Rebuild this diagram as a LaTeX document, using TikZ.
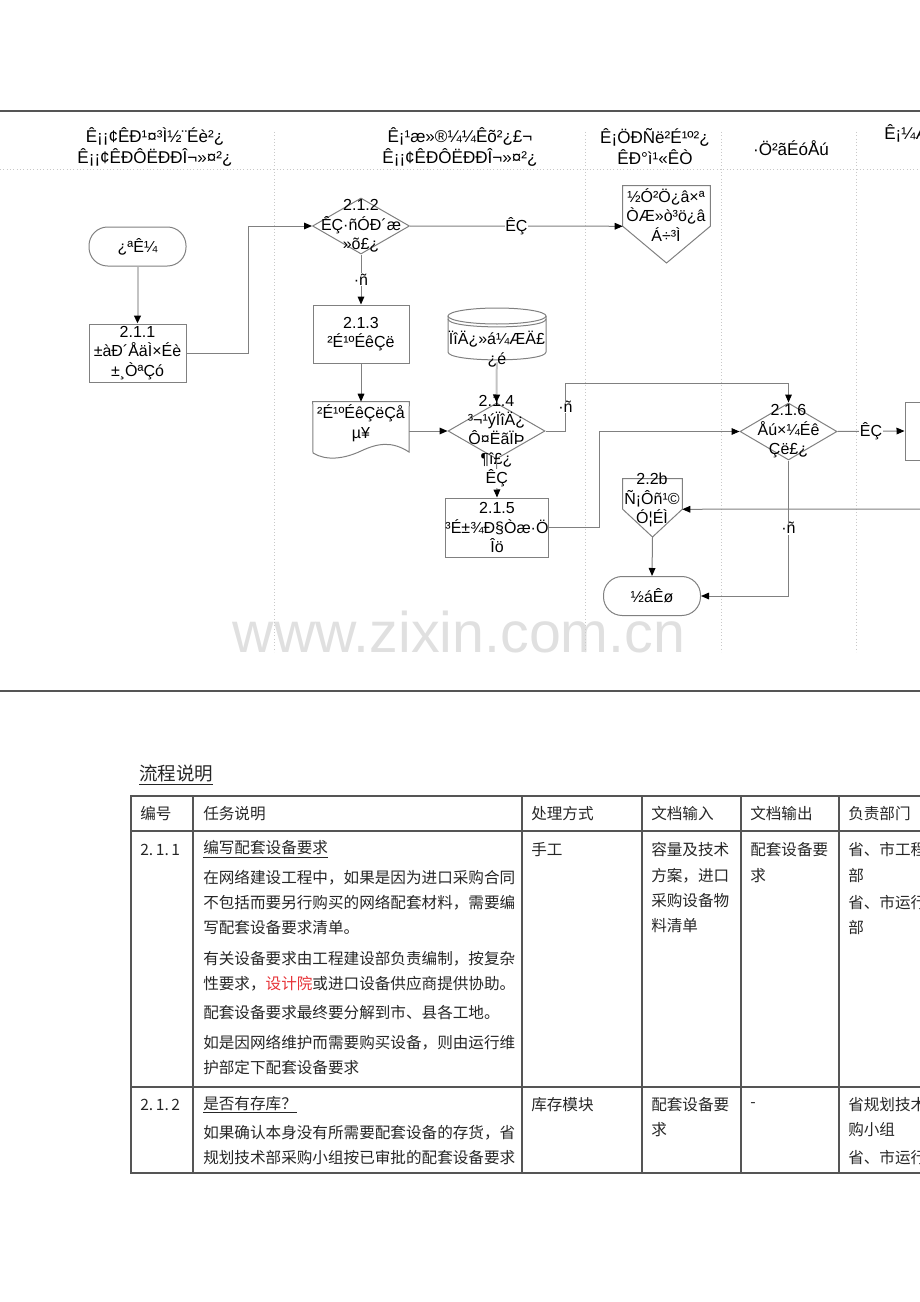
\documentclass[tikz,border=0pt]{standalone}
\usepackage{fontspec}
\setmainfont{Liberation Sans}
\newfontfamily\cjk{Noto Sans CJK SC}
\usetikzlibrary{arrows.meta,shapes.geometric}
\newcommand\chartfont{\fontsize{12}{14.6}\selectfont}
\newcommand\lanefont{\fontsize{12.8}{15.75}\selectfont}
\newcommand\cellfont{\cjk\fontsize{11.7}{14}\selectfont}
\definecolor{linegray}{RGB}{128,128,128}
\definecolor{palegray}{RGB}{195,195,195}
\definecolor{lanegray}{RGB}{200,200,200}
\definecolor{rulegray}{RGB}{85,85,85}
\definecolor{markgray}{RGB}{224,224,224}
\definecolor{notered}{RGB}{230,50,55}
\tikzset{
  flow/.style={draw=linegray, line width=0.75pt, -{Triangle[length=6pt,width=5pt,color=black]}},
  paleflow/.style={draw=palegray, line width=1.5pt, -{Triangle[length=6pt,width=5pt,color=black]}},
  shapeline/.style={draw=linegray, line width=0.75pt},
  terminal/.style={draw=linegray, line width=0.75pt, rounded corners=14pt, minimum width=72.75pt, minimum height=29.25pt, inner sep=0pt, font=\chartfont},
  process/.style={draw=linegray, line width=0.75pt, minimum width=72.75pt, minimum height=43.5pt, inner sep=0pt, align=center, font=\chartfont},
  decision/.style={diamond, draw=linegray, line width=0.75pt, minimum width=72.75pt, minimum height=42pt, inner sep=0pt},
  txt/.style={align=center, inner sep=0pt, font=\chartfont},
  elbl/.style={fill=white, inner sep=0.5pt, font=\chartfont},
  lanehead/.style={align=center, inner sep=0pt, font=\lanefont},
  lane/.style={draw=lanegray, line width=0.5pt, dotted},
  bandrule/.style={draw=rulegray, line width=1pt},
  tablerule/.style={draw=rulegray, line width=1pt},
  cell/.style={anchor=west, inner sep=0pt, font=\cellfont, text=black!85}
}
\begin{document}
\begin{tikzpicture}[x=0.75pt,y=0.75pt,yscale=-1,xscale=1]
\path[use as bounding box] (0,0) rectangle (920,1302);
\clip (0,0) rectangle (920,1302);

% Watermark
\node[font=\fontsize{43}{43}\selectfont, text=markgray, anchor=base] (wmark) at (459,652) {www.zixin.com.cn};

%Straight Lines: swimlanes
\draw[bandrule] (0,111) -- (920,111);
\draw[bandrule] (0,691) -- (920,691);
\draw[lane] (0,169) -- (920,169);
\draw[lane] (274,132) -- (274,652);
\draw[lane] (585,132) -- (585,652);
\draw[lane] (721,132) -- (721,652);
\draw[lane] (856,132) -- (856,652);

% Text Node: lane headers
\node[lanehead] (laneA) at (155,147) {Ê¡¡¢ÊÐ¹¤³Ì½¨Éè²¿\\Ê¡¡¢ÊÐÔËÐÐÎ¬»¤²¿};
\node[lanehead] (laneB) at (460,147) {Ê¡¹æ»®¼¼Êõ²¿£¬\\Ê¡¡¢ÊÐÔËÐÐÎ¬»¤²¿};
\node[lanehead] (laneC) at (655,147) {Ê¡ÖÐÑë²É¹º²¿\\ÊÐ°ì¹«ÊÒ};
\node[lanehead] (laneD) at (791,148) {·Ö²ãÉóÅú};
\node[lanehead, anchor=west] (laneE) at (884,133) {Ê¡¼Æ»®²¿};

%Shape: Terminal
\node[terminal] (start) at (137.5,246.5) {¿ªÊ¼};
%Shape: Rectangle
\node[process] (p211) at (137.5,353) {2.1.1\\±àÐ´ÅäÌ×Éè\\±¸ÒªÇó};
%Shape: Diamond
\node[decision, label={[txt]center:{2.1.2\\ÊÇ·ñÓÐ´æ\\»õ£¿}}] (d212) at (361,226) {};

%Shape: Off-page connector
\node[minimum width=65.25pt, minimum height=30pt, inner sep=0pt] (op1) at (666.5,206) {};
\coordinate (op1tip) at (666.5,263);
\draw[shapeline] (op1.south west) -- (op1.north west) -- (op1.north east) -- (op1.south east) -- (op1tip) -- cycle;
\node[txt] (op1txt) at (666,215) {½Ó²Ö¿â×ª\\ÒÆ»ò³ö¿â\\Á÷³Ì};

%Shape: Rectangle
\node[process, minimum width=72pt] (p213) at (361,334) {2.1.3\\²É¹ºÉêÇë};

%Shape: Document
\node[minimum width=72pt, minimum height=43.5pt, inner sep=0pt] (doc213) at (361,431) {};
\draw[shapeline] (doc213.north west) -- (doc213.north east) -- (409,452) .. controls (392,441) and (378,443) .. (361,451) .. controls (344,459) and (326,461) .. (313,453) -- cycle;
\node[txt] (doctxt) at (361,423) {²É¹ºÉêÇëÇå\\µ¥};

%Shape: Can
\draw[shapeline] (497,316) ellipse [x radius=49, y radius=8];
\draw[shapeline] (448,319) .. controls (448,329.5) and (546,329.5) .. (546,319);
\draw[shapeline] (448,316) -- (448,352) .. controls (448,362.5) and (546,362.5) .. (546,352) -- (546,316);
\node[minimum width=73.5pt, minimum height=42.75pt, inner sep=0pt] (db) at (497,333.5) {};
\node[txt] (dbtxt) at (497,349) {ÏîÄ¿»á¼ÆÄ£\\¿é};

%Shape: Diamond
\node[decision, label={[txt]center:{2.1.4\\³¬¹ýÏîÄ¿\\Ô¤ËãÏÞ\\¶î£¿}}] (d214) at (496.5,431) {};
%Shape: Rectangle
\node[process, minimum width=73.5pt, minimum height=44.25pt] (p215) at (497,527.5) {2.1.5\\³É±¾Ð§Òæ·Ö\\Îö};
%Shape: Diamond
\node[decision, minimum height=42.75pt, label={[txt]center:{2.1.6\\Åú×¼Éê\\Çë£¿}}] (d216) at (788.5,431.5) {};
%Shape: Rectangle
\node[process, minimum width=52.5pt] (p217) at (940,431) {};

%Shape: Off-page connector
\node[minimum width=44.25pt, minimum height=22.5pt, inner sep=0pt] (op22) at (652.5,494) {};
\coordinate (op22tip) at (652.5,537);
\draw[shapeline] (op22.south west) -- (op22.north west) -- (op22.north east) -- (op22.south east) -- (op22tip) -- cycle;
\node[txt] (op22txt) at (652,500) {2.2b\\Ñ¡Ôñ¹©\\Ó¦ÉÌ};

%Shape: Terminal
\node[terminal] (stop) at (652,596) {½áÊø};
\coordinate (from22) at (930,509);

%Straight Lines: connectors
\draw[paleflow] (start) -- (p211);
\draw[flow] (p211.east) -- ++(62,0) |- (d212.west);
\draw[flow] (d212.east) -- node[elbl] {ÊÇ} (op1.south west);
\draw[flow] (d212.south) -- node[elbl] {·ñ} (p213.north);
\draw[flow] (p213) -- (doc213.north);
\draw[flow] (doc213.east) -- (d214.west);
\draw[paleflow] (db) -- (d214.north);
\draw[flow] (d214.east) -- ++(20,0) -- node[elbl] {·ñ} ++(0,-48) -| (d216.north);
\draw[flow] (d214.south) -- node[elbl] {ÊÇ} (p215.north);
\draw[flow] (p215.east) -- ++(50,0) |- (d216.west);
\draw[flow] (d216.east) -- node[elbl] {ÊÇ} (p217.west);
\draw[flow] (d216.south) |- node[elbl, pos=0.25] {·ñ} (stop.east);
\draw[flow] (from22) -- (op22.south east);
\draw[flow] (op22tip) -- (stop.north);

% Text Node: table title
\node[cell, font=\cjk\fontsize{13.9}{16}\selectfont] (flowtitle) at (139,775) {\underline{流程说明}};

%Shape: Table
\draw[tablerule] (131,796) rectangle (935,1173);
\draw[tablerule] (131,831) -- (935,831);
\draw[tablerule] (131,1087) -- (935,1087);
\draw[tablerule] (193,796) -- (193,1173);
\draw[tablerule] (522,796) -- (522,1173);
\draw[tablerule] (642,796) -- (642,1173);
\draw[tablerule] (741,796) -- (741,1173);
\draw[tablerule] (839,796) -- (839,1173);

% Text Node: table header
\node[cell] (hNo) at (140,814) {编号};
\node[cell] (hTask) at (203,814) {任务说明};
\node[cell] (hMode) at (531,814) {处理方式};
\node[cell] (hIn) at (651,814) {文档输入};
\node[cell] (hOut) at (750,814) {文档输出};
\node[cell] (hDept) at (848,814) {负责部门};

% Text Node: row 2.1.1
\node[cell] (aNo) at (140,850) {2.\,1.\,1};
\node[cell] (aTask1) at (203,849) {\underline{编写配套设备要求}};
\node[cell] (aTask2) at (203,878) {在网络建设工程中，如果是因为进口采购合同};
\node[cell] (aTask3) at (203,903) {不包括而要另行购买的网络配套材料，需要编};
\node[cell] (aTask4) at (203,928) {写配套设备要求清单。};
\node[cell] (aTask5) at (203,959) {有关设备要求由工程建设部负责编制，按复杂};
\node[cell] (aTask6) at (203,984) {性要求，\textcolor{notered}{设计院}或进口设备供应商提供协助。};
\node[cell] (aTask7) at (203,1013) {配套设备要求最终要分解到市、县各工地。};
\node[cell] (aTask8) at (203,1043) {如是因网络维护而需要购买设备，则由运行维};
\node[cell] (aTask9) at (203,1068) {护部定下配套设备要求};
\node[cell] (aMode) at (531,850) {手工};
\node[cell] (aIn1) at (651,850) {容量及技术};
\node[cell] (aIn2) at (651,876) {方案，进口};
\node[cell] (aIn3) at (651,901) {采购设备物};
\node[cell] (aIn4) at (651,926) {料清单};
\node[cell] (aOut1) at (750,850) {配套设备要};
\node[cell] (aOut2) at (750,876) {求};
\node[cell] (aDept1) at (848,850) {省、市工程建设};
\node[cell] (aDept2) at (848,876) {部};
\node[cell] (aDept3) at (848,903) {省、市运行维护};
\node[cell] (aDept4) at (848,928) {部};

% Text Node: row 2.1.2
\node[cell] (bNo) at (140,1105) {2.\,1.\,2};
\node[cell] (bTask1) at (203,1105) {\underline{是否有存库？}};
\node[cell] (bTask2) at (203,1133) {如果确认本身没有所需要配套设备的存货，省};
\node[cell] (bTask3) at (203,1158) {规划技术部采购小组按已审批的配套设备要求};
\node[cell] (bMode) at (531,1105) {库存模块};
\node[cell] (bIn1) at (651,1105) {配套设备要};
\node[cell] (bIn2) at (651,1130) {求};
\node[cell] (bOut) at (750,1105) {-};
\node[cell] (bDept1) at (848,1105) {省规划技术部采};
\node[cell] (bDept2) at (848,1130) {购小组};
\node[cell] (bDept3) at (848,1158) {省、市运行维护};

\end{tikzpicture}
\end{document}
